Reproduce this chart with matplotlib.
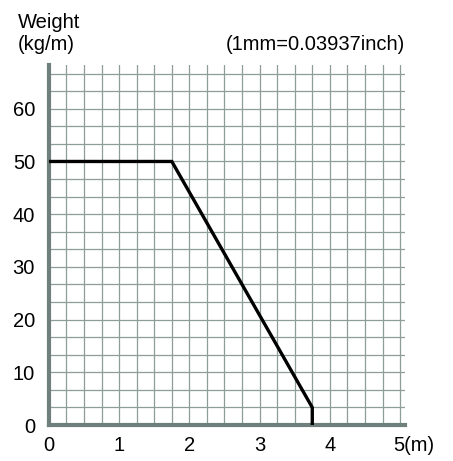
import numpy as np
import matplotlib.pyplot as plt
import matplotlib.transforms as mtransforms

plt.rcParams['font.family'] = ['Liberation Sans', 'DejaVu Sans']

# load curve: distance (m) vs weight (kg/m)
span_m = [0.0, 1.75, 3.75, 3.75]
weight = [50.0, 50.0, 3.33, 0.0]

x_ticks = [0, 1, 2, 3, 4, 5]
x_labels = ["0", "1", "2", "3", "4", "5(m)"]
y_ticks = [0, 10, 20, 30, 40, 50, 60]

GRID = "#8d9e9a"
SPINE = "#6f807c"
FS = 14.5

fig = plt.figure(figsize=(4.53, 4.61), dpi=100)
ax = fig.add_axes([0.108, 0.078, 0.786, 0.781])

# square grid paper: 0.25 m by 10/3 kg/m
for gx in np.arange(0.25, 5.01, 0.25):
    ax.axvline(gx, color=GRID, lw=0.9, zorder=1)
for gy in np.arange(10 / 3, 67, 10 / 3):
    ax.axhline(gy, color=GRID, lw=0.9, zorder=1)

ax.plot(span_m, weight, color="black", lw=2.4, solid_joinstyle="miter", zorder=3)

ax.set_xlim(0, 5.07)
ax.set_ylim(0, 68.3)

for side in ["top", "right"]:
    ax.spines[side].set_visible(False)
for side in ["left", "bottom"]:
    ax.spines[side].set_color(SPINE)
    ax.spines[side].set_linewidth(3)

ax.set_xticks(x_ticks)
ax.set_xticklabels(x_labels)
ax.set_yticks(y_ticks)
ax.tick_params(axis="x", length=0, pad=8, labelsize=FS)
ax.tick_params(axis="y", length=0, pad=10, labelsize=FS)

last = ax.get_xticklabels()[-1]
last.set_horizontalalignment("left")
last.set_transform(last.get_transform() + mtransforms.ScaledTranslation(-0.07, 0, fig.dpi_scale_trans))

fig.text(18 / 453, 1 - 28 / 461, "Weight", fontsize=FS, ha="left", va="baseline")
fig.text(18 / 453, 1 - 50 / 461, "(kg/m)", fontsize=FS, ha="left", va="baseline")
fig.text(405 / 453, 1 - 50 / 461, "(1mm=0.03937inch)", fontsize=FS, ha="right", va="baseline")

fig.savefig("out.png", dpi=100)
